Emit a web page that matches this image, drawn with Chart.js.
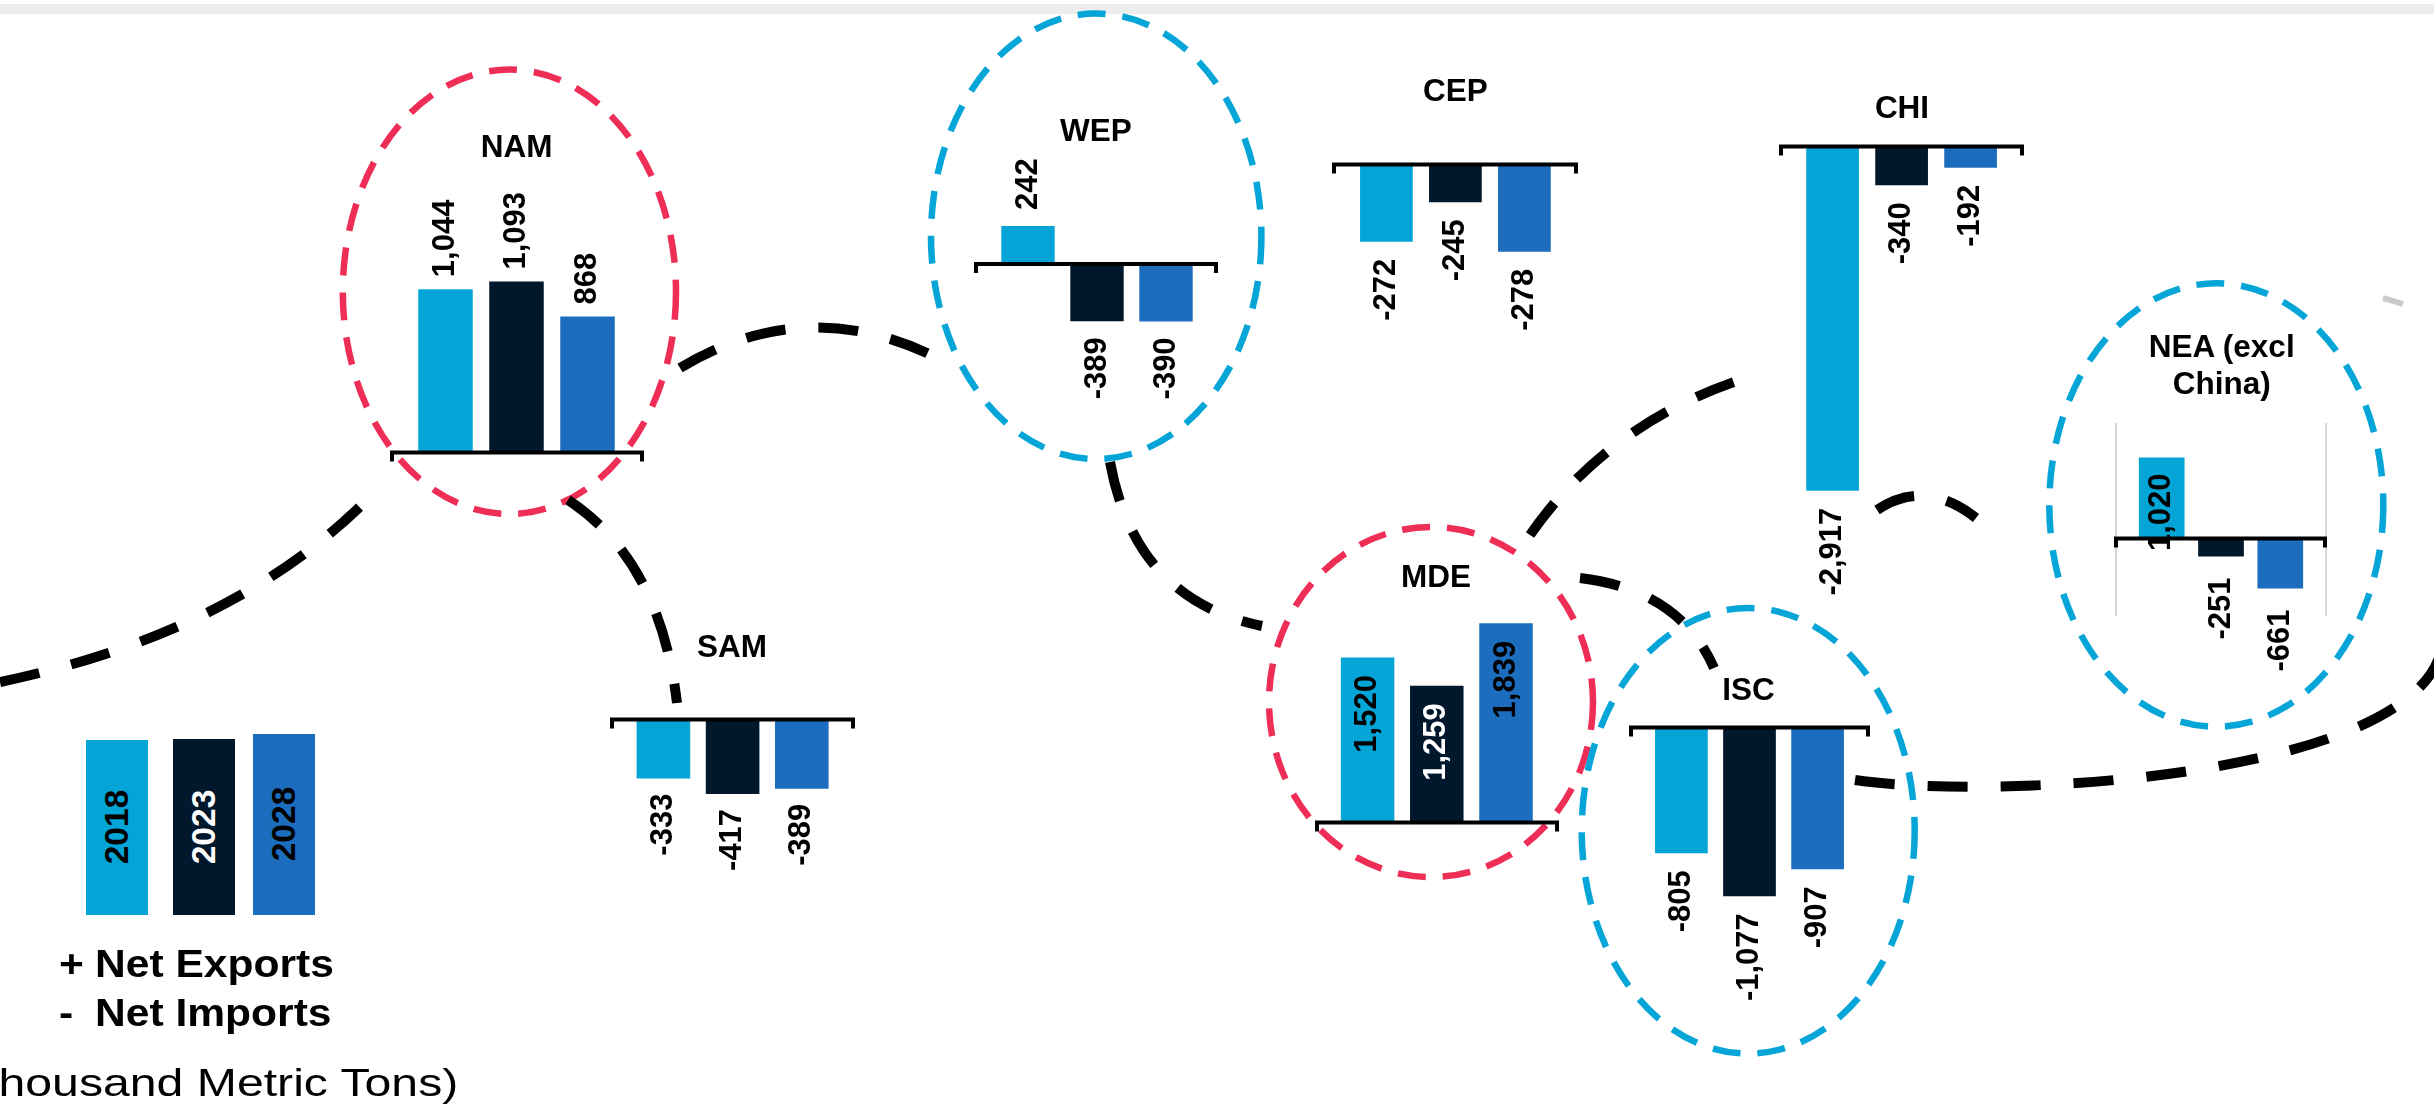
<!DOCTYPE html>
<html>
<head>
<meta charset="utf-8">
<script src="https://cdn.jsdelivr.net/npm/chart.js@4.4.1/dist/chart.umd.min.js"></script>
<style>
  html, body { margin: 0; padding: 0; background: #ffffff; }
  #stage { position: relative; width: 2434px; height: 1110px; overflow: hidden; background: #ffffff;
           font-family: "Liberation Sans", Arial, Helvetica, sans-serif; }
  #band { position: absolute; left: 0; top: 4px; width: 2434px; height: 10px; background: #ededed; }
  #deco { position: absolute; left: 0; top: 0; z-index: 1; }
  canvas.panel { position: absolute; left: 0; top: 0; z-index: 2; }
  .txt { position: absolute; white-space: nowrap; color: #000; z-index: 3; }
  .title { font-weight: bold; font-size: 31.5px; line-height: 36.6px; text-align: center; transform: translate(-50%, -50%); }
  .legbox { position: absolute; z-index: 3; }
  .legbox span { position: absolute; left: 50%; top: 50%; font-weight: bold; font-size: 33.5px; line-height: 1;
                 white-space: nowrap; transform: translate(-50%, -50%) rotate(-90deg); }
  .side { font-weight: bold; font-size: 38px; line-height: 38px; transform-origin: 0 50%; transform: scaleX(1.12); }
  .unit { font-size: 39.5px; line-height: 39.5px; transform-origin: 0 50%; transform: scaleX(1.22); }
</style>
</head>
<body>
<div id="stage">
  <div id="band"></div>
  <svg id="deco" width="2434" height="1110" xmlns="http://www.w3.org/2000/svg"></svg>
</div>
<script>
// ---------------- DATA ----------------
const years = ['2018', '2023', '2028'];
const regions = ['NAM', 'SAM', 'WEP', 'CEP', 'CHI', 'MDE', 'ISC', 'NEA'];
const regionTitles = {
  NAM: ['NAM'], SAM: ['SAM'], WEP: ['WEP'], CEP: ['CEP'], CHI: ['CHI'],
  MDE: ['MDE'], ISC: ['ISC'], NEA: ['NEA (excl', 'China)']
};
// net exports (+) / net imports (-), thousand metric tons, as labelled
const namNet = [1044, 1093, 868];
const samNet = [-333, -417, -389];
const wepNet = [242, -389, -390];
const cepNet = [-272, -245, -278];
const chiNet = [-2917, -340, -192];
const mdeNet = [1520, 1259, 1839];
const iscNet = [-805, -1077, -907];
const neaNet = [1020, -251, -661];
// In the source graphic the CEP bars are not drawn to their labels; bar lengths as drawn:
const cepDrawnBars = [-491, -245, -553];

const legendNotes = ['+ Net Exports', '-  Net Imports'];
const unitLabel = '(Thousand Metric Tons)';

// ---------------- STYLE / LAYOUT ----------------
const W = 2434, H = 1110;
const yearColors = ['#03A4D6', '#01172B', '#1D6DBE'];
const FONT = '"Liberation Sans", Arial, Helvetica, sans-serif';

const panels = [
  { id: 'NAM', values: namNet, labels: namNet, cx: 516.5, sp: 71, bw: 54.5, y0: 451, k: 0.155,
    bracket: [390, 644], title: [516.6, 146], gap: 12 },
  { id: 'SAM', values: samNet, labels: samNet, cx: 732.6, sp: 69.2, bw: 53.6, y0: 718, k: 0.182,
    bracket: [610, 855], title: [732, 646], gap: 15 },
  { id: 'WEP', values: wepNet, labels: wepNet, cx: 1097, sp: 69, bw: 53.4, y0: 262.5, k: 0.151,
    bracket: [974, 1218], title: [1096, 130], gap: 16 },
  { id: 'CEP', values: cepDrawnBars, labels: cepNet, cx: 1455.4, sp: 69, bw: 52.7, y0: 163, k: 0.1604,
    bracket: [1332, 1578], title: [1455.3, 90], gap: 17 },
  { id: 'CHI', values: chiNet, labels: chiNet, cx: 1901.6, sp: 69, bw: 52.7, y0: 145, k: 0.1185,
    bracket: [1779, 2024], title: [1902, 107], gap: 17 },
  { id: 'MDE', values: mdeNet, labels: mdeNet, cx: 1436.8, sp: 69.2, bw: 53.5, y0: 821, k: 0.1075,
    bracket: [1315, 1559], title: [1436, 576], gap: 17, gapIn: 17.5,
    inside: [true, true, true], labelColors: ['#000000', '#ffffff', '#000000'] },
  { id: 'ISC', values: iscNet, labels: iscNet, cx: 1749.5, sp: 68.1, bw: 52.7, y0: 726, k: 0.158,
    bracket: [1629, 1870], title: [1748.5, 689], gap: 17 },
  { id: 'NEA', values: neaNet, labels: neaNet, cx: 2221, sp: 59.3, bw: 45.7, y0: 537, k: 0.078,
    bracket: [2114, 2327], title: [2221.7, 365], gap: 21, gapIn: 16,
    inside: [true, false, false], frame: [2116, 2326, 423, 616] }
];

// ---------------- DECORATION (dashed ellipses & connecting curves) ----------------
const ellipses = [
  { cx: 509.4, cy: 291.8, rx: 166.6, ry: 222.2, color: '#EE2E56' },
  { cx: 1096.2, cy: 236.3, rx: 165.2, ry: 222.7, color: '#05A5D8' },
  { cx: 1431, cy: 702, rx: 162, ry: 175, color: '#EE2E56' },
  { cx: 1748.2, cy: 830.8, rx: 166.5, ry: 222.8, color: '#05A5D8' },
  { cx: 2216.3, cy: 505, rx: 167, ry: 221.7, color: '#05A5D8' }
];
const curves = [
  'M 0 682 Q 248 630 382 484',
  'M 568 500 Q 660 560 677 703',
  'M 680 368 Q 810 290 945 362',
  'M 1110 462 Q 1135 600 1262 626',
  'M 1530 535 Q 1610 420 1752 376',
  'M 1580 578 Q 1680 590 1714 668',
  'M 1855 780 C 1990 800 2400 780 2440 655',
  'M 1877 510 Q 1925 478 1976 518'
];

const stage = document.getElementById('stage');
const svg = document.getElementById('deco');
const NS = 'http://www.w3.org/2000/svg';
ellipses.forEach(e => {
  const el = document.createElementNS(NS, 'ellipse');
  el.setAttribute('cx', e.cx); el.setAttribute('cy', e.cy);
  el.setAttribute('rx', e.rx); el.setAttribute('ry', e.ry);
  el.setAttribute('fill', 'none'); el.setAttribute('stroke', e.color);
  el.setAttribute('stroke-width', '6.5'); el.setAttribute('stroke-dasharray', '28 17');
  svg.appendChild(el);
});
curves.forEach(d => {
  const p = document.createElementNS(NS, 'path');
  p.setAttribute('d', d); p.setAttribute('fill', 'none'); p.setAttribute('stroke', '#000');
  p.setAttribute('stroke-width', '10'); p.setAttribute('stroke-dasharray', '40 33');
  svg.appendChild(p);
});
(function () {
  const p = document.createElementNS(NS, 'path');
  p.setAttribute('d', 'M 2383 298 L 2403 304');
  p.setAttribute('stroke', '#c9c9c9'); p.setAttribute('stroke-width', '6');
  svg.appendChild(p);
})();

// ---------------- CHART PLUGIN: axis bracket + rotated value labels ----------------
const panelDecor = {
  id: 'panelDecor',
  beforeDatasetsDraw(chart, args, opts) {
    if (!opts.frame) return;
    const ctx = chart.ctx, f = opts.frame;
    ctx.save();
    ctx.strokeStyle = '#d9d9d9'; ctx.lineWidth = 2;
    ctx.beginPath();
    ctx.moveTo(f[0], f[2]); ctx.lineTo(f[0], f[3]);
    ctx.moveTo(f[1], f[2]); ctx.lineTo(f[1], f[3]);
    ctx.stroke();
    ctx.restore();
  },
  afterDatasetsDraw(chart, args, opts) {
    const ctx = chart.ctx;
    const yZero = chart.scales.y.getPixelForValue(0);
    ctx.save();
    ctx.strokeStyle = '#000'; ctx.lineWidth = 4; ctx.lineJoin = 'miter'; ctx.lineCap = 'butt';
    ctx.beginPath();
    ctx.moveTo(opts.bracket[0] + 2, yZero + 10.5);
    ctx.lineTo(opts.bracket[0] + 2, yZero + 1.5);
    ctx.lineTo(opts.bracket[1] - 2, yZero + 1.5);
    ctx.lineTo(opts.bracket[1] - 2, yZero + 10.5);
    ctx.stroke();
    ctx.restore();

    const meta = chart.getDatasetMeta(0);
    const vals = chart.data.datasets[0].data;
    meta.data.forEach((bar, i) => {
      const txt = opts.labels[i].toLocaleString('en-US');
      const inside = opts.inside ? opts.inside[i] : false;
      ctx.save();
      ctx.font = 'bold 31px ' + FONT;
      ctx.fillStyle = opts.labelColors ? opts.labelColors[i] : '#000';
      ctx.textBaseline = 'middle';
      ctx.translate(bar.x, bar.y);
      ctx.rotate(-Math.PI / 2);
      if (vals[i] >= 0) {
        if (inside) { ctx.textAlign = 'right'; ctx.fillText(txt, -(opts.gapIn || opts.gap), 0); }
        else { ctx.textAlign = 'left'; ctx.fillText(txt, opts.gap, 0); }
      } else {
        ctx.textAlign = 'right'; ctx.fillText(txt, -opts.gap, 0);
      }
      ctx.restore();
    });
  }
};

// ---------------- BUILD PANELS ----------------
panels.forEach(p => {
  const cv = document.createElement('canvas');
  cv.className = 'panel'; cv.width = W; cv.height = H;
  cv.style.width = W + 'px'; cv.style.height = H + 'px';
  stage.appendChild(cv);
  const left = p.cx - 1.5 * p.sp, right = p.cx + 1.5 * p.sp;
  new Chart(cv, {
    type: 'bar',
    data: {
      labels: years,
      datasets: [{
        label: p.id, data: p.values, backgroundColor: yearColors,
        borderWidth: 0, categoryPercentage: 1, barPercentage: p.bw / p.sp
      }]
    },
    options: {
      responsive: false, maintainAspectRatio: false, animation: false, devicePixelRatio: 1, events: [],
      layout: { padding: { left: left, right: W - right, top: 0, bottom: 0 } },
      scales: {
        x: { display: false, offset: true },
        y: { display: false, min: -(H - p.y0) / p.k, max: p.y0 / p.k }
      },
      plugins: {
        legend: { display: false }, tooltip: { enabled: false }, title: { display: false },
        panelDecor: { bracket: p.bracket, labels: p.labels, gap: p.gap, gapIn: p.gapIn,
                      inside: p.inside, labelColors: p.labelColors, frame: p.frame }
      }
    },
    plugins: [panelDecor]
  });
  const t = document.createElement('div');
  t.className = 'txt title';
  t.style.left = p.title[0] + 'px'; t.style.top = p.title[1] + 'px';
  t.innerHTML = regionTitles[p.id].join('<br>');
  stage.appendChild(t);
});

// ---------------- LEGEND ----------------
const legendBoxes = [
  { x: 86, y: 740, w: 62, h: 174.5, text: '#000000' },
  { x: 173.3, y: 739, w: 61.7, h: 175.5, text: '#ffffff' },
  { x: 253.3, y: 734, w: 61.7, h: 180.5, text: '#000000' }
];
years.forEach((yr, i) => {
  const b = legendBoxes[i];
  const d = document.createElement('div');
  d.className = 'legbox';
  d.style.left = b.x + 'px'; d.style.top = b.y + 'px';
  d.style.width = b.w + 'px'; d.style.height = b.h + 'px';
  d.style.background = yearColors[i];
  const s = document.createElement('span');
  s.textContent = yr; s.style.color = b.text;
  d.appendChild(s);
  stage.appendChild(d);
});

function addText(cls, str, x, y) {
  const d = document.createElement('div');
  d.className = 'txt ' + cls;
  d.textContent = str;
  d.style.left = x + 'px'; d.style.top = y + 'px';
  stage.appendChild(d);
  return d;
}
addText('side', legendNotes[0].slice(0, 1), 59, 944.7);
addText('side', legendNotes[0].slice(2), 95, 944.7);
addText('side', legendNotes[1].slice(0, 1), 59, 994.3);
addText('side', legendNotes[1].slice(3), 95, 994.3);
addText('unit', unitLabel, -47, 1062.8);
</script>
</body>
</html>
